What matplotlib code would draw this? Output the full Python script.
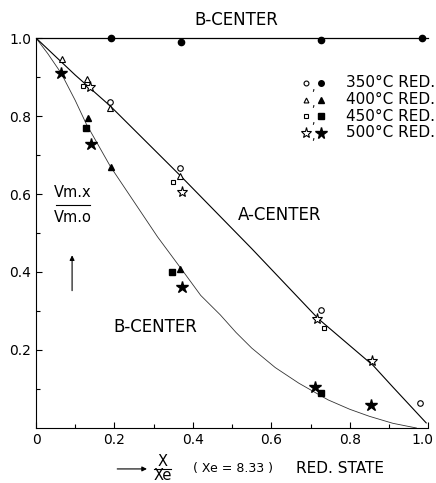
import numpy as np
import matplotlib
matplotlib.use('Agg')
import matplotlib.pyplot as plt
import matplotlib.transforms as mtransforms

# B-center, upper branch (filled circles on y = 1)
b_top_x = [0.19, 0.37, 0.727, 0.985]
b_top_y = [1.0, 0.99, 0.995, 1.0]

# A-center (open markers)
a350_x = [0.189, 0.367, 0.727, 0.98]
a350_y = [0.836, 0.667, 0.303, 0.064]
a400_x = [0.065, 0.13, 0.189, 0.367]
a400_y = [0.945, 0.895, 0.82, 0.646]
a450_x = [0.12, 0.349, 0.735]
a450_y = [0.877, 0.63, 0.256]
a500_x = [0.138, 0.372, 0.717, 0.857]
a500_y = [0.874, 0.605, 0.28, 0.172]

# B-center, lower branch (filled markers)
b400_x = [0.133, 0.19, 0.367]
b400_y = [0.795, 0.67, 0.408]
b450_x = [0.128, 0.347, 0.727]
b450_y = [0.77, 0.40, 0.09]
b500_x = [0.064, 0.14, 0.372, 0.712, 0.855]
b500_y = [0.91, 0.728, 0.362, 0.105, 0.059]

# hand drawn guide curves
a_curve_x = [0.0, 0.1, 0.19, 0.37, 0.55, 0.72, 0.86, 0.91, 0.995]
a_curve_y = [1.0, 0.905, 0.825, 0.645, 0.46, 0.28, 0.16, 0.105, 0.013]
b_curve_x = [0.0, 0.03, 0.064, 0.1, 0.128, 0.19, 0.25, 0.31, 0.38, 0.42, 0.47, 0.51, 0.55, 0.61,
             0.67, 0.745, 0.8, 0.85, 0.91, 0.97]
b_curve_y = [1.0, 0.96, 0.91, 0.84, 0.78, 0.67, 0.58, 0.49, 0.395, 0.34, 0.29, 0.245, 0.205, 0.155,
             0.115, 0.072, 0.048, 0.03, 0.012, 0.0]

legend_labels = ['350°C RED.', '400°C RED.', '450°C RED.', '500°C RED.']

fig = plt.figure(figsize=(4.36, 4.83), dpi=100)
ax = fig.add_axes([0.0826, 0.1139, 0.8994, 0.8074])

ax.plot([0, 1.0], [1.0, 1.0], color='black', lw=0.9, clip_on=False)
ax.plot(a_curve_x, a_curve_y, color='black', lw=0.8)
ax.plot(b_curve_x, b_curve_y, color='black', lw=0.6, alpha=0.8)

ax.plot(b_top_x, b_top_y, 'o', color='black', ms=4.5, clip_on=False)

ax.plot(a350_x, a350_y, 'o', mfc='white', mec='black', ms=4, mew=0.8)
ax.plot(a400_x, a400_y, '^', mfc='white', mec='black', ms=4, mew=0.8)
ax.plot(a450_x, a450_y, 's', mfc='white', mec='black', ms=3.5, mew=0.8)
ax.plot(a500_x, a500_y, '*', mfc='white', mec='black', ms=8, mew=0.8)

ax.plot(b400_x, b400_y, '^', color='black', ms=4)
ax.plot(b450_x, b450_y, 's', color='black', ms=3.8)
ax.plot(b500_x, b500_y, '*', color='black', ms=9)

# legend drawn as text
leg_y = [0.885, 0.842, 0.8, 0.757]
open_m = ['o', '^', 's', '*']
for i, lab in enumerate(legend_labels):
    ms_o = 8 if open_m[i] == '*' else 3.5
    ax.plot(0.689, leg_y[i], open_m[i], mfc='white', mec='black', ms=ms_o, mew=0.8)
    ax.text(0.707, leg_y[i] - 0.012, ',', fontsize=8, ha='center', va='center')
    ax.plot(0.728, leg_y[i], open_m[i], color='black', ms=ms_o + 0.5)
    ax.text(0.79, leg_y[i], lab, fontsize=11, ha='left', va='center')

ax.text(0.51, 1.046, 'B-CENTER', fontsize=12, ha='center', va='center', clip_on=False)
ax.text(0.62, 0.546, 'A-CENTER', fontsize=12, ha='center', va='center')
ax.text(0.304, 0.259, 'B-CENTER', fontsize=12, ha='center', va='center')

ax.text(0.094, 0.604, 'Vm.x', fontsize=10.5, ha='center', va='center')
ax.plot([0.05, 0.138], [0.573, 0.573], color='black', lw=0.8)
ax.text(0.094, 0.541, 'Vm.o', fontsize=10.5, ha='center', va='center')
ax.annotate('', xy=(0.092, 0.45), xytext=(0.092, 0.345),
            arrowprops=dict(arrowstyle='-|>', color='black', lw=0.8, mutation_scale=7))

# x axis label
ax.annotate('', xy=(0.29, -0.105), xytext=(0.2, -0.105), xycoords='data',
            arrowprops=dict(arrowstyle='-|>', color='black', lw=0.8, mutation_scale=7),
            annotation_clip=False)
ax.text(0.322, -0.087, 'X', fontsize=10.5, ha='center', va='center', clip_on=False)
ax.plot([0.3, 0.345], [-0.105, -0.105], color='black', lw=0.8, clip_on=False)
ax.text(0.322, -0.123, 'Xe', fontsize=10.5, ha='center', va='center', clip_on=False)
ax.text(0.4, -0.105, '( Xe = 8.33 )', fontsize=9, ha='left', va='center', clip_on=False)
ax.text(0.662, -0.105, 'RED. STATE', fontsize=11, ha='left', va='center', clip_on=False)

ax.set_xlim(0, 1.0)
ax.set_ylim(0, 1.0)
ax.set_xticks([0, 0.2, 0.4, 0.6, 0.8, 1.0])
ax.set_xticklabels(['0', '0.2', '0.4', '0.6', '0.8', '1.0'])
ax.set_xticks([0.1, 0.3, 0.5, 0.7, 0.9], minor=True)
ax.set_yticks([0.2, 0.4, 0.6, 0.8, 1.0])
ax.set_yticklabels(['0.2', '0.4', '0.6', '0.8', '1.0'])
ax.set_yticks([0.1, 0.3, 0.5, 0.7, 0.9], minor=True)
ax.tick_params(which='both', direction='in', labelsize=10, width=0.8)
ax.tick_params(which='major', length=4)
ax.tick_params(which='minor', length=3)
ax.spines['top'].set_visible(False)
ax.spines['right'].set_visible(False)

# nudge the last x tick label so it stays inside the figure
last = ax.get_xticklabels()[-1]
last.set_transform(last.get_transform() + mtransforms.ScaledTranslation(-6 / 100, 0, fig.dpi_scale_trans))

plt.savefig('out.png', dpi=100)
